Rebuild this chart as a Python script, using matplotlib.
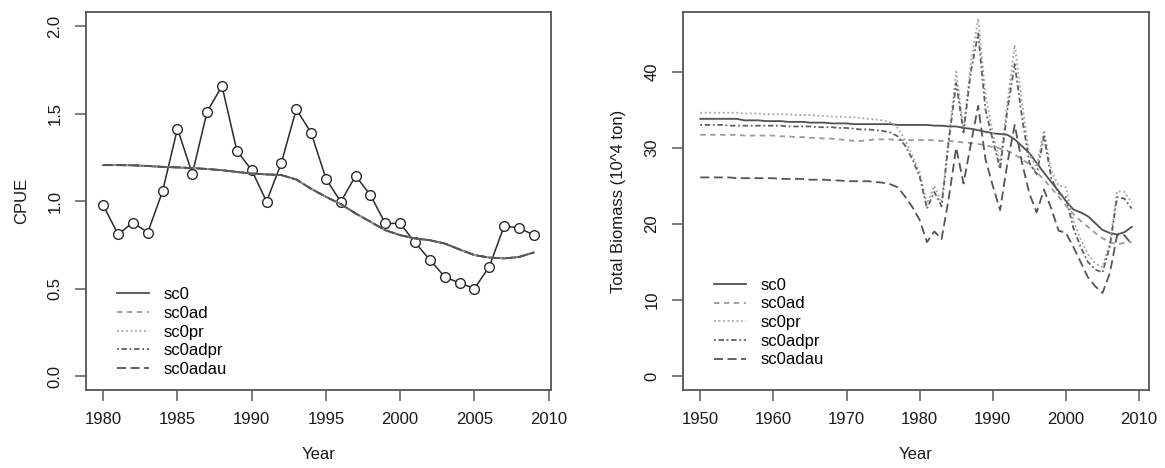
import numpy as np
import matplotlib
matplotlib.use("Agg")
from matplotlib import pyplot as plt

plt.rcParams['font.family'] = ['Liberation Sans', 'DejaVu Sans']
plt.rcParams['font.size'] = 12

# CPUE, observed vs fitted
cpue_years = list(range(1980, 2010))
cpue_obs = [0.976, 0.809, 0.877, 0.820, 1.056, 1.414, 1.155, 1.511, 1.657, 1.288,
            1.176, 0.997, 1.218, 1.524, 1.391, 1.128, 0.995, 1.144, 1.033, 0.872,
            0.872, 0.763, 0.664, 0.567, 0.531, 0.500, 0.624, 0.856, 0.847, 0.805]
cpue_fit = [1.205, 1.205, 1.204, 1.200, 1.195, 1.192, 1.188, 1.183, 1.176, 1.166,
            1.157, 1.152, 1.148, 1.123, 1.070, 1.024, 0.982, 0.929, 0.881, 0.833,
            0.805, 0.786, 0.776, 0.757, 0.723, 0.691, 0.677, 0.672, 0.680, 0.706]

# total biomass by scenario (10^4 ton)
bio_years = list(range(1950, 2010))
sc0 = [33.8, 33.8, 33.8, 33.8, 33.8, 33.8, 33.6, 33.6, 33.6, 33.5,
       33.5, 33.5, 33.4, 33.4, 33.4, 33.3, 33.3, 33.3, 33.2, 33.2,
       33.2, 33.1, 33.1, 33.1, 33.1, 33.1, 33.1, 33.0, 33.0, 33.0,
       33.0, 33.0, 32.9, 32.9, 32.8, 32.8, 32.6, 32.5, 32.3, 32.1,
       31.9, 31.8, 31.7, 31.1, 30.2, 29.3, 28.0, 26.7, 25.5, 24.3,
       23.0, 21.9, 21.5, 21.0, 20.1, 19.2, 18.8, 18.6, 18.9, 19.6]
sc0ad = [31.7, 31.7, 31.7, 31.7, 31.7, 31.7, 31.6, 31.6, 31.6, 31.6,
         31.6, 31.5, 31.5, 31.4, 31.4, 31.3, 31.3, 31.2, 31.2, 31.1,
         31.0, 30.9, 30.9, 31.0, 31.1, 31.1, 31.1, 31.0, 31.0, 31.0,
         31.0, 31.0, 31.0, 30.9, 30.9, 30.8, 30.7, 30.6, 30.5, 30.3,
         30.1, 29.9, 29.6, 29.1, 28.5, 27.8, 26.8, 25.8, 24.7, 23.6,
         22.4, 21.3, 20.4, 19.6, 18.8, 18.1, 17.6, 17.3, 17.5, 17.6]
sc0pr = [34.6, 34.6, 34.6, 34.6, 34.6, 34.6, 34.5, 34.5, 34.5, 34.4,
         34.4, 34.4, 34.4, 34.3, 34.3, 34.3, 34.2, 34.2, 34.1, 34.1,
         34.0, 34.0, 33.9, 33.8, 33.7, 33.6, 33.3, 32.6, 31.0, 29.0,
         26.8, 22.6, 25.0, 22.8, 31.5, 40.0, 32.5, 41.0, 47.0, 37.0,
         32.0, 27.8, 36.0, 43.5, 36.0, 29.0, 27.5, 32.3, 27.0, 25.0,
         24.8, 20.5, 18.0, 16.0, 14.8, 14.3, 17.5, 24.3, 24.2, 22.8]
sc0adpr = [33.0, 33.0, 33.0, 33.0, 32.9, 32.9, 32.9, 32.9, 32.9, 32.9,
           32.9, 32.9, 32.8, 32.8, 32.8, 32.8, 32.7, 32.7, 32.7, 32.6,
           32.6, 32.5, 32.4, 32.4, 32.3, 32.2, 32.0, 31.5, 30.3, 28.5,
           26.2, 22.0, 24.2, 22.3, 31.0, 38.5, 32.0, 40.0, 45.0, 35.0,
           31.0, 27.2, 35.0, 41.0, 34.0, 28.0, 26.5, 31.5, 26.0, 24.0,
           23.5, 19.5, 17.0, 15.0, 14.0, 13.6, 17.0, 23.5, 23.3, 22.0]
sc0adau = [26.1, 26.1, 26.1, 26.1, 26.1, 26.0, 26.0, 26.0, 26.0, 26.0,
           26.0, 25.9, 25.9, 25.9, 25.9, 25.8, 25.8, 25.8, 25.7, 25.7,
           25.6, 25.6, 25.6, 25.6, 25.5, 25.4, 25.2, 24.8, 23.6, 22.2,
           20.5, 17.6, 19.0, 18.0, 23.5, 30.0, 25.3, 30.5, 35.5, 28.5,
           25.0, 21.8, 28.0, 33.0, 28.0, 24.0, 21.5, 24.5, 22.0, 19.1,
           18.8, 17.0, 15.0, 13.0, 11.8, 10.9, 13.5, 18.5, 18.5, 17.3]

scen_names = ["sc0", "sc0ad", "sc0pr", "sc0adpr", "sc0adau"]
scen_styles = {"sc0": ("-", "#505050"),
               "sc0ad": ((0, (3, 2.5)), "#9a9a9a"),
               "sc0pr": ((0, (1, 1.5)), "#a4a4a4"),
               "sc0adpr": ((0, (1, 1.5, 3, 1.5)), "#606060"),
               "sc0adau": ((0, (5, 2.5)), "#555555")}
bio = {"sc0": sc0, "sc0ad": sc0ad, "sc0pr": sc0pr, "sc0adpr": sc0adpr, "sc0adau": sc0adau}


def r_lims(lo, hi):
    pad = (hi - lo) * 0.04
    return lo - pad, hi + pad


def style_axes(ax):
    for s in ax.spines.values():
        s.set_color("#555555")
        s.set_linewidth(1.3)
    ax.tick_params(direction="out", length=8, width=1.2, color="#666666",
                   labelcolor="#1a1a1a", labelsize=12, pad=8)
    ax.tick_params(axis="y", pad=9)
    for lab in ax.get_yticklabels():
        lab.set_rotation(90)
        lab.set_va("center")


def add_legend(ax, y0):
    ax.legend(loc="lower left", bbox_to_anchor=(0.035, y0), frameon=False,
              handlelength=1.9, handletextpad=0.9, labelspacing=0.22, fontsize=12)


fig = plt.figure(figsize=(11.65, 4.68), dpi=100)
ax1 = fig.add_axes([86 / 1165, 1 - 390 / 468, 465 / 1165, 378 / 468])
ax2 = fig.add_axes([683 / 1165, 1 - 390 / 468, 466 / 1165, 378 / 468])

# left: CPUE
ax1.plot(cpue_years, cpue_obs, color="#2a2a2a", lw=1.1, marker="o", ms=7,
         mfc="white", mec="#2a2a2a", mew=1.0, zorder=2)
for name in scen_names:
    ls, col = scen_styles[name]
    ax1.plot(cpue_years, cpue_fit, ls=ls, color=col, lw=1.3, label=name, zorder=3)
ax1.set_xlim(*r_lims(1980, 2009))
ax1.set_ylim(*r_lims(0, 2))
ax1.set_xticks([1980, 1985, 1990, 1995, 2000, 2005, 2010])
ax1.set_yticks([0.0, 0.5, 1.0, 1.5, 2.0])
ax1.set_yticklabels(["0.0", "0.5", "1.0", "1.5", "2.0"])
ax1.set_xlabel("Year", labelpad=14, color="#1a1a1a")
ax1.set_ylabel("CPUE", labelpad=13, color="#1a1a1a")
style_axes(ax1)
add_legend(ax1, -0.005)

# right: total biomass
for name in scen_names:
    ls, col = scen_styles[name]
    ax2.plot(bio_years, bio[name], ls=ls, color=col, lw=1.3, label=name)
ax2.set_xlim(*r_lims(1950, 2009))
ax2.set_ylim(*r_lims(0, 46))
ax2.set_xticks([1950, 1960, 1970, 1980, 1990, 2000, 2010])
ax2.set_yticks([0, 10, 20, 30, 40])
ax2.set_xlabel("Year", labelpad=14, color="#1a1a1a")
ax2.set_ylabel("Total Biomass (10^4 ton)", labelpad=13, color="#1a1a1a")
style_axes(ax2)
add_legend(ax2, 0.02)

fig.savefig("out.png", dpi=100)
